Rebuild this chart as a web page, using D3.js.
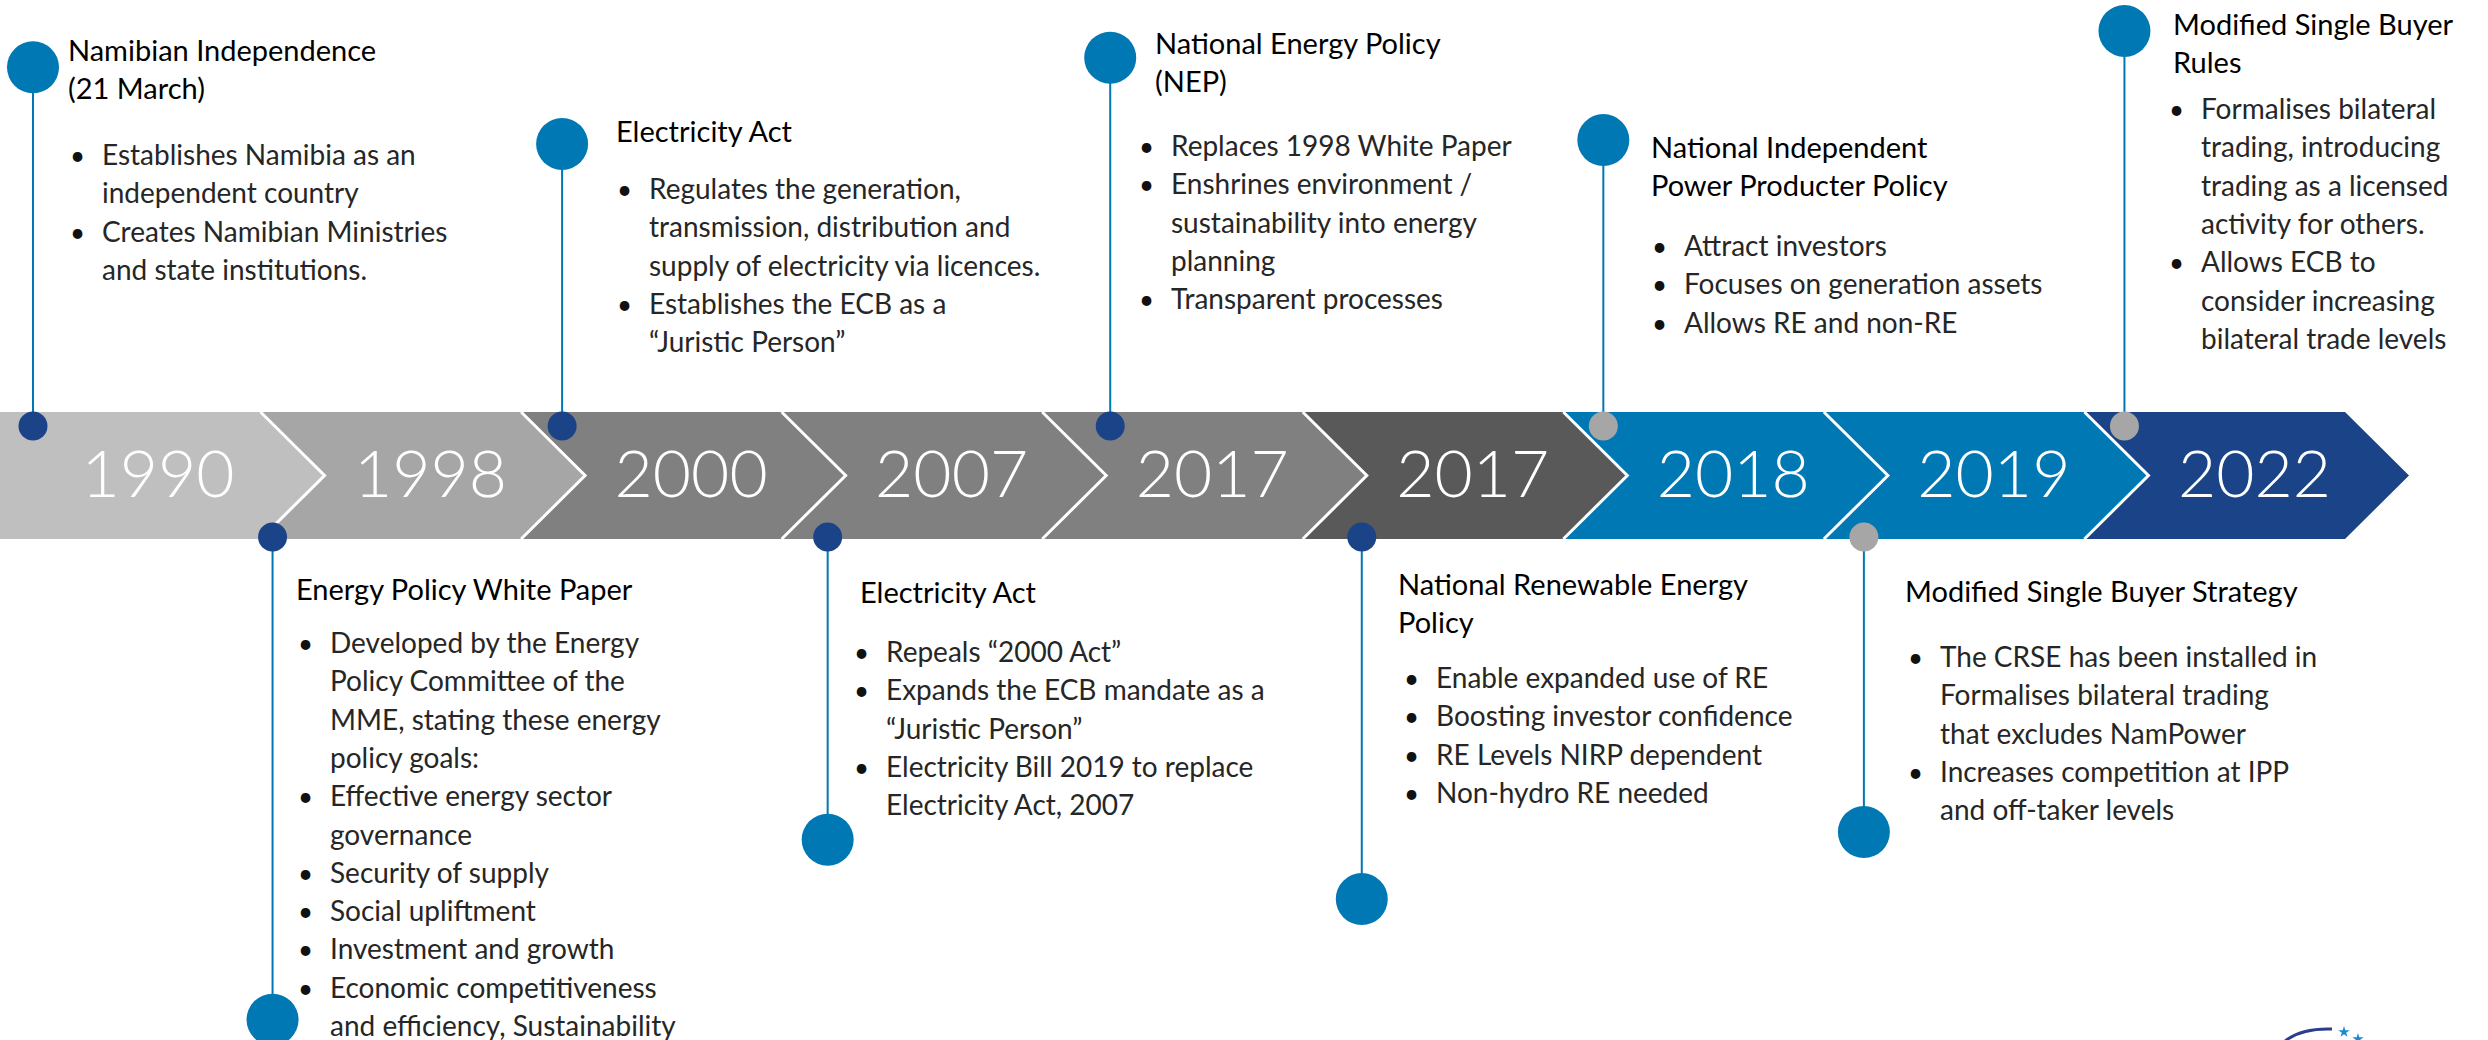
<!DOCTYPE html>
<html>
  <head>
    <title>Namibia electricity sector timeline</title>
    <script type="text/javascript" src="https://cdnjs.cloudflare.com/ajax/libs/d3/7.8.5/d3.min.js"></script>
    <style>
      body { margin: 0; background: #fff; }
      svg { display: block; }
    </style>
  </head>
  <body>
  <script>

    // years on the arrow band
    var years = ['1990', '1998', '2000', '2007', '2017', '2017', '2018', '2019', '2022'];
    var segColors = ['#BFBFBF', '#A6A6A6', '#808080', '#808080', '#808080', '#595959', '#0078B4', '#0078B4', '#1A4487'];

    // events, in the order: top row left->right, then bottom row left->right
    var eventSegment = [0, 2, 4, 6, 8, 1, 3, 5, 7];
    var eventSide = ['top', 'top', 'top', 'top', 'top', 'bottom', 'bottom', 'bottom', 'bottom'];
    var eventTone = ['navy', 'navy', 'navy', 'grey', 'grey', 'navy', 'navy', 'navy', 'grey'];
    // how far the pin reaches away from the band, in text lines
    var eventReach = [9.0, 7.0, 9.25, 7.1, 9.95, 12.55, 7.85, 9.4, 7.65];

    var eventTitles = [
      ['Namibian Independence', '(21 March)'],
      ['Electricity Act'],
      ['National Energy Policy', '(NEP)'],
      ['National Independent', 'Power Producter Policy'],
      ['Modified Single Buyer', 'Rules'],
      ['Energy Policy White Paper'],
      ['Electricity Act'],
      ['National Renewable Energy', 'Policy'],
      ['Modified Single Buyer Strategy']
    ];

    var eventBullets = [
      [['Establishes Namibia as an', 'independent country'], ['Creates Namibian Ministries', 'and state institutions.']],
      [['Regulates the generation,', 'transmission, distribution  and', 'supply of electricity via licences.'], ['Establishes the ECB as a', '\u201CJuristic Person\u201D']],
      [['Replaces 1998 White Paper'], ['Enshrines environment /', 'sustainability into energy', 'planning'], ['Transparent processes']],
      [['Attract investors'], ['Focuses on generation assets'], ['Allows RE and non-RE']],
      [['Formalises bilateral', 'trading, introducing', 'trading as a licensed', 'activity for others.'], ['Allows ECB to', 'consider increasing', 'bilateral trade levels']],
      [['Developed by the Energy', 'Policy Committee of the', 'MME, stating these energy', 'policy goals:'], ['Effective energy sector', 'governance'], ['Security of supply'], ['Social upliftment'], ['Investment and growth'], ['Economic competitiveness', 'and efficiency, Sustainability']],
      [['Repeals \u201C2000 Act\u201D'], ['Expands the ECB mandate as a', '\u201CJuristic Person\u201D'], ['Electricity Bill 2019 to replace', 'Electricity Act, 2007']],
      [['Enable expanded use of RE'], ['Boosting investor confidence'], ['RE Levels NIRP dependent'], ['Non-hydro RE needed']],
      [['The CRSE has been installed in', 'Formalises bilateral trading', 'that excludes NamPower'], ['Increases competition at IPP', 'and off-taker levels']]
    ];

    // layout (pixels) -- pin offset inside its segment, text box anchors
    var pinOffset = [33, 41, 68, 40, 40, 12, 46, 59, 40];
    var titleX = [68, 616, 1155, 1651, 2173, 296, 860, 1398, 1905];
    var titleY = [51, 132, 44, 148, 25, 590, 593, 585, 592];
    var bulletX = [70, 617, 1139, 1652, 2169, 298, 854, 1404, 1908];
    var bulletY = [155, 189, 146, 246, 109, 643, 652, 678, 657];

    var W = 2488, H = 1040;
    var bandTop = 412, bandBottom = 539, bandMid = (bandTop + bandBottom) / 2;
    var tip = 64;
    var lineH = 38.3;
    var font = 'Lato, "Open Sans", sans-serif';

    var svg = d3.select('body')
      .append('svg')
      .attr('width', W)
      .attr('height', H);

    var x = d3.scaleBand()
      .domain(d3.range(years.length))
      .range([0, 2345])
      .paddingInner(0);

    var reachY = d3.scaleLinear()
      .domain([0, 1])
      .range([0, lineH]);

    var w = x.bandwidth();

    // chevron band
    var segs = svg.append('g').selectAll('g')
      .data(years)
      .enter().append('g');

    segs.append('path')
      .attr('fill', function(d, i) { return segColors[i]; })
      .attr('d', function(d, i) {
        var L = x(i);
        var p = d3.path();
        p.moveTo(L, bandTop);
        p.lineTo(L + w, bandTop);
        p.lineTo(L + w + tip, bandMid);
        p.lineTo(L + w, bandBottom);
        p.lineTo(L, bandBottom);
        if (i > 0) p.lineTo(L + tip, bandMid);
        p.closePath();
        return p.toString();
      });

    // white separators on each notch
    segs.filter(function(d, i) { return i > 0; })
      .append('path')
      .attr('fill', 'none')
      .attr('stroke', '#fff')
      .attr('stroke-width', 3)
      .attr('d', function(d, i) {
        var L = x(i + 1);
        return 'M' + L + ',' + bandTop + 'L' + (L + tip) + ',' + bandMid + 'L' + L + ',' + bandBottom;
      });

    segs.append('text')
      .attr('x', function(d, i) { return x(i) + (i === 0 ? 158 : 170); })
      .attr('y', 497)
      .attr('text-anchor', 'middle')
      .attr('fill', '#fff')
      .attr('font-family', font)
      .attr('font-weight', 300)
      .attr('font-size', 66)
      .text(function(d) { return d; });

    // events
    var ev = svg.append('g').selectAll('g')
      .data(eventTitles)
      .enter().append('g');

    function pinX(i) { return x(eventSegment[i]) + pinOffset[i]; }
    function markerY(i) { return eventSide[i] === 'top' ? bandTop + 14 : bandBottom - 2; }
    function endY(i) {
      return eventSide[i] === 'top' ? bandTop - reachY(eventReach[i]) : bandBottom + reachY(eventReach[i]);
    }

    ev.append('line')
      .attr('x1', function(d, i) { return pinX(i); })
      .attr('x2', function(d, i) { return pinX(i); })
      .attr('y1', function(d, i) { return markerY(i); })
      .attr('y2', function(d, i) { return endY(i); })
      .attr('stroke', '#0078B4')
      .attr('stroke-width', 2);

    ev.append('circle')
      .attr('cx', function(d, i) { return pinX(i); })
      .attr('cy', function(d, i) { return endY(i); })
      .attr('r', 26)
      .attr('fill', '#0078B4');

    ev.append('circle')
      .attr('cx', function(d, i) { return pinX(i); })
      .attr('cy', function(d, i) { return markerY(i); })
      .attr('r', 14.5)
      .attr('fill', function(d, i) { return eventTone[i] === 'navy' ? '#1A4487' : '#A6A6A6'; });

    // titles and bullet lists
    ev.each(function(d, i) {
      var g = d3.select(this);
      g.selectAll('text.title')
        .data(d)
        .enter().append('text')
        .attr('class', 'title')
        .attr('x', titleX[i])
        .attr('y', function(t, j) { return titleY[i] + 10 + j * lineH; })
        .attr('font-family', font)
        .attr('font-size', 29)
        .attr('fill', '#000')
        .text(function(t) { return t; });

      // flatten bullets into lines
      var lines = [];
      eventBullets[i].forEach(function(b) {
        b.forEach(function(t, k) { lines.push({ text: t, first: k === 0 }); });
      });

      var bl = g.selectAll('g.bl')
        .data(lines)
        .enter().append('g')
        .attr('class', 'bl')
        .attr('transform', function(t, j) { return 'translate(0,' + (bulletY[i] + 10 + j * lineH) + ')'; });

      bl.filter(function(t) { return t.first; })
        .append('text')
        .attr('x', bulletX[i])
        .attr('font-family', font)
        .attr('font-size', 26)
        .attr('fill', '#111')
        .text('\u2022');

      bl.append('text')
        .attr('x', bulletX[i] + 32)
        .attr('font-family', font)
        .attr('font-weight', 400)
        .attr('font-size', 28)
        .attr('fill', '#262626')
        .text(function(t) { return t.text; });
    });

    // partial logo in the corner
    var logo = svg.append('g');
    logo.append('path')
      .attr('d', 'M2284,1042 Q2300,1028 2332,1029')
      .attr('fill', 'none')
      .attr('stroke', '#2B3E8C')
      .attr('stroke-width', 3);
    logo.selectAll('path.star')
      .data([[2344, 1032], [2358, 1039]])
      .enter().append('path')
      .attr('class', 'star')
      .attr('transform', function(d) { return 'translate(' + d[0] + ',' + d[1] + ')'; })
      .attr('d', d3.symbol(d3.symbolStar, 40))
      .attr('fill', '#1E88D0');

  </script>
 </body>
</html>
